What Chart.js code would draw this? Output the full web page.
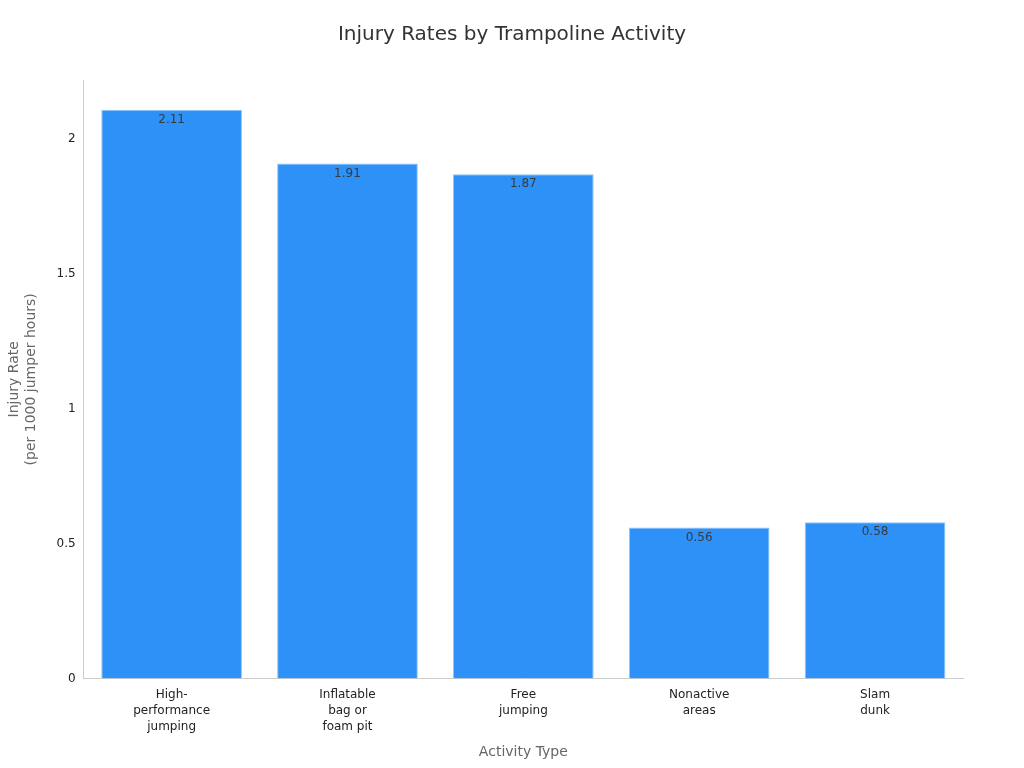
<!DOCTYPE html>
<html>
<head>
<meta charset="utf-8">
<script src="https://cdn.jsdelivr.net/npm/chart.js@4.4.1/dist/chart.umd.min.js"></script>
<style>
  html, body { margin: 0; padding: 0; background: #fff; }
  canvas { display: block; }
</style>
</head>
<body>
<canvas id="chart" width="1024" height="768"></canvas>
<script>
const chartTitle = 'Injury Rates by Trampoline Activity';
const categories = [
  ['High-', 'performance', 'jumping'],
  ['Inflatable', 'bag or', 'foam pit'],
  ['Free', 'jumping'],
  ['Nonactive', 'areas'],
  ['Slam', 'dunk']
];
const injuryRates = [2.11, 1.91, 1.87, 0.56, 0.58];
const yTicks = [0, 0.5, 1, 1.5, 2];

Chart.defaults.font.family = "'DejaVu Sans', sans-serif";
Chart.defaults.color = '#333';

// title centred on the whole canvas, value labels inside the bar tops
const decorations = {
  id: 'decorations',
  afterDraw(chart) {
    const ctx = chart.ctx;
    ctx.save();
    ctx.font = "20px 'DejaVu Sans', sans-serif";
    ctx.fillStyle = '#333';
    ctx.textAlign = 'center';
    ctx.textBaseline = 'middle';
    ctx.fillText(chartTitle, chart.width / 2, 35);

    ctx.font = "12px 'DejaVu Sans', sans-serif";
    ctx.fillStyle = '#3a3a3a';
    ctx.textBaseline = 'top';
    chart.getDatasetMeta(0).data.forEach((bar, i) => {
      ctx.fillText(String(injuryRates[i]), bar.x, bar.y + 4);
    });
    ctx.restore();
  }
};

new Chart(document.getElementById('chart'), {
  type: 'bar',
  data: {
    labels: categories,
    datasets: [{
      data: injuryRates,
      backgroundColor: '#2e91f7',
      borderColor: '#8ec5fa',
      borderWidth: 1,
      barPercentage: 0.8,
      categoryPercentage: 1.0
    }]
  },
  options: {
    responsive: false,
    animation: false,
    layout: { padding: { left: 2, right: 61, top: 80, bottom: 3 } },
    scales: {
      x: {
        grid: { display: false, drawTicks: true, tickLength: 5, tickColor: '#666' },
        border: { display: true, color: '#ccc' },
        ticks: { color: '#222', font: { size: 12, lineHeight: 1.35 }, maxRotation: 0, autoSkip: false, padding: 3 },
        title: { display: true, text: 'Activity Type', color: '#666', font: { size: 14 }, padding: { top: 6 } }
      },
      y: {
        min: 0,
        max: 2.22,
        afterBuildTicks: (scale) => {
          scale.ticks = yTicks.map(v => ({ value: v }));
        },
        grid: { display: false, drawTicks: true, tickLength: 5, tickColor: '#666' },
        border: { display: true, color: '#ccc' },
        ticks: { color: '#222', font: { size: 12 }, callback: (v) => String(v) },
        title: { display: true, text: ['Injury Rate', '(per 1000 jumper hours)'], color: '#666', font: { size: 14 }, padding: { bottom: 14 } }
      }
    },
    plugins: {
      legend: { display: false },
      tooltip: { enabled: false },
      title: { display: false }
    }
  },
  plugins: [decorations]
});
</script>
</body>
</html>
